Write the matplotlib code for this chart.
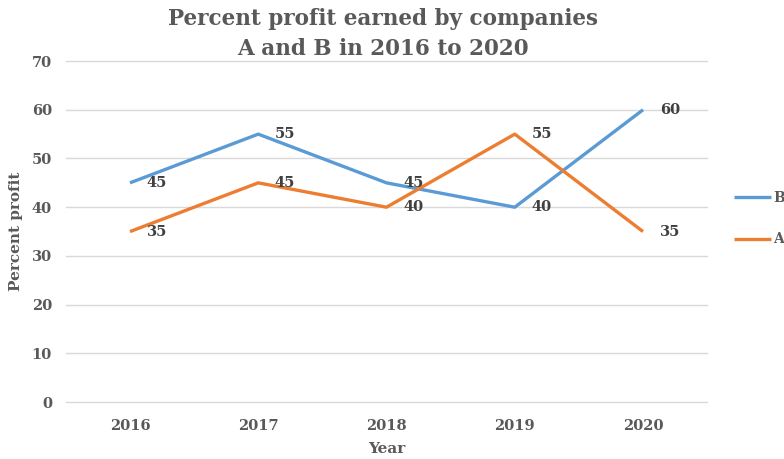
import matplotlib
matplotlib.use('Agg')
import matplotlib.pyplot as plt

# values
years = ['2016', '2017', '2018', '2019', '2020']
profit_b = [45, 55, 45, 40, 60]
profit_a = [35, 45, 40, 55, 35]
y_ticks = [0, 10, 20, 30, 40, 50, 60, 70]

blue = '#5B9BD5'
orange = '#ED7D31'
grey = '#595959'

plt.rcParams['font.family'] = ['DejaVu Serif']
plt.rcParams['font.weight'] = 'bold'

fig = plt.figure(figsize=(7.84, 4.59), dpi=100)
ax = fig.add_axes([0.084, 0.124, 0.818, 0.743])

x = range(len(years))
line_b, = ax.plot(x, profit_b, color=blue, lw=2.4, label='B', solid_capstyle='butt')
line_a, = ax.plot(x, profit_a, color=orange, lw=2.4, label='A', solid_capstyle='butt')

# data labels to the right of each point
for xi, v in zip(x, profit_b):
    ax.annotate(str(v), (xi, v), xytext=(12, 0), textcoords='offset points',
                va='center', ha='left', fontsize=10.5, color='#404040', fontweight='bold')
for xi, v in zip(x, profit_a):
    ax.annotate(str(v), (xi, v), xytext=(12, 0), textcoords='offset points',
                va='center', ha='left', fontsize=10.5, color='#404040', fontweight='bold')

ax.set_xlim(-0.5, len(years) - 0.5)
ax.set_ylim(0, 70)
ax.set_xticks(list(x))
ax.set_xticklabels(years)
ax.set_yticks(y_ticks)
ax.grid(axis='y', color='#d9d9d9', lw=1)
for gl in ax.get_ygridlines():
    gl.set_clip_on(False)
ax.set_axisbelow(True)
for s in ax.spines.values():
    s.set_visible(False)
ax.tick_params(length=0, labelsize=10.5, labelcolor=grey)
ax.tick_params(axis='y', pad=10)
ax.tick_params(axis='x', pad=12)

ax.set_ylabel('Percent profit', fontsize=11, color=grey, labelpad=6, fontweight='bold')
ax.set_xlabel('Year', fontsize=11, color=grey, labelpad=7, fontweight='bold')

fig.text(0.489, 0.983, 'Percent profit earned by companies\nA and B in 2016 to 2020',
         ha='center', va='top', fontsize=15.5, color=grey, fontweight='bold',
         linespacing=1.5)

fig.legend(handles=[line_b, line_a], loc='center left', bbox_to_anchor=(0.928, 0.524),
           frameon=False, fontsize=10, handlelength=2.6, handletextpad=0.2,
           labelspacing=2.0, borderpad=0, labelcolor=grey)

fig.savefig('out.png', dpi=100)
